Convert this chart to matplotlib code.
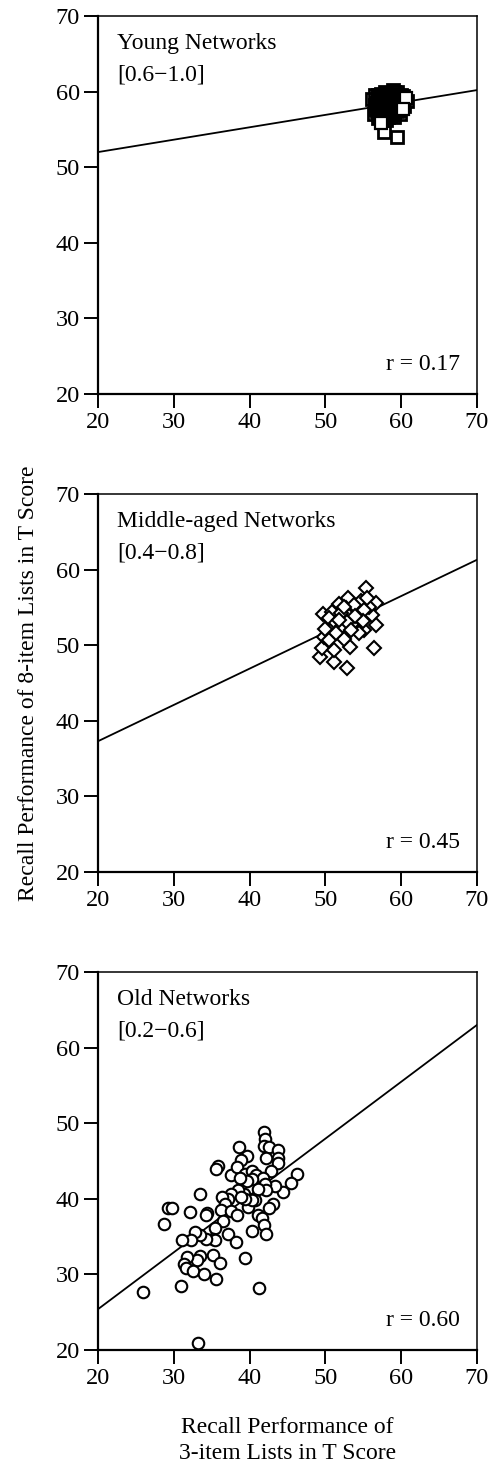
import matplotlib
matplotlib.use("Agg")
import matplotlib.pyplot as plt

plt.rcParams['font.family'] = ['Liberation Serif', 'DejaVu Serif']

# ---------------- data ----------------
# young networks: dense core (overlapping squares) ...
young_x = [56.2, 56.5, 56.8, 57.0, 57.2, 57.4, 57.6, 57.8, 58.0, 58.2, 58.4, 58.6,
           58.8, 59.0, 59.2, 59.4, 59.6, 59.8, 60.8, 56.4, 57.0, 57.5,
           58.0, 58.5, 59.0, 57.7, 59.4, 56.6, 57.9, 58.9, 59.5, 60.0, 58.3,
           57.1, 58.7, 59.1, 59.9, 60.4, 56.9, 58.1, 57.5, 58.6,
           57.3, 57.6, 57.9, 58.2, 58.5, 58.8, 59.1, 57.4, 57.7, 58.0, 58.3, 58.6,
           58.9, 59.2, 57.2, 57.5, 57.8, 58.1, 58.4, 58.7, 57.0, 56.7, 56.9, 57.3,
           57.7, 58.1, 58.4, 58.7, 59.1, 59.3, 59.6, 59.8, 60.1, 60.3, 59.5, 59.7,
           58.2, 57.6, 57.1, 56.6]
young_y = [59.0, 58.2, 57.5, 59.5, 58.6, 57.8, 59.2, 58.2, 59.8, 58.9, 57.6, 59.6,
           58.4, 59.9, 58.7, 57.5, 59.3, 58.3, 58.7, 57.0, 56.5, 56.9,
           56.2, 56.8, 57.0, 54.7, 54.0, 59.6, 60.0, 60.2, 60.0, 59.6, 58.0,
           58.0, 57.3, 56.6, 57.0, 58.1, 58.9, 59.3, 57.3, 58.9,
           59.0, 58.5, 58.8, 58.4, 58.7, 58.1, 58.4, 58.3, 57.9, 57.6, 57.9, 57.5,
           57.8, 57.9, 57.5, 57.0, 57.3, 57.0, 57.2, 56.9, 57.9, 58.5, 59.3, 59.7,
           59.5, 59.6, 59.2, 59.4, 59.2, 59.6, 58.8, 59.1, 58.9, 59.4, 58.0, 57.6,
           56.6, 56.3, 56.9, 57.7]
# ... and squares on the edge of the cluster, drawn on top
young_edge_x = [60.6, 60.2, 57.3]
young_edge_y = [59.2, 57.7, 55.9]

middle_x = [55.3, 53.0, 51.8, 56.7, 49.7, 56.7, 56.4, 52.8, 51.1, 49.3, 49.5, 51.1,
            53.3, 49.8, 50.5, 52.5, 55.1, 54.4, 56.1, 55.8, 54.7, 50.9, 50.5, 51.4,
            52.2, 53.6, 54.0, 52.7, 53.1, 54.4, 53.8, 51.4, 52.0, 52.9, 55.1, 55.5,
            50.0, 51.8, 53.4, 54.9, 52.4, 53.9]
middle_y = [57.6, 56.2, 55.4, 55.6, 54.1, 52.7, 49.6, 47.0, 47.8, 48.5, 49.6, 49.3,
            49.8, 51.1, 50.7, 50.8, 52.0, 51.6, 54.0, 55.0, 55.8, 54.4, 53.6, 52.9,
            52.5, 52.9, 54.4, 54.9, 53.8, 53.6, 55.3, 51.6, 54.2, 53.1, 54.7, 56.2,
            52.2, 53.3, 52.0, 53.2, 55.0, 53.9]

old_x = [41.9, 42.0, 41.9, 42.6, 43.7, 43.7, 43.7, 42.2, 38.6, 39.6, 38.8, 35.8,
         35.6, 46.2, 45.4, 44.4, 43.3, 42.8, 37.6, 38.3, 39.4, 40.3, 40.9, 41.8,
         42.0, 42.2, 41.1, 40.7, 39.8, 39.3, 38.5, 37.6, 37.2, 36.4, 36.7, 36.2,
         37.6, 38.4, 43.1, 42.5, 41.1, 41.7, 41.9, 42.1, 40.3, 37.1, 38.2, 36.5,
         35.4, 35.2, 35.4, 34.3, 33.4, 32.8, 32.3, 31.1, 34.4, 34.2, 32.2, 33.4,
         29.3, 29.7, 28.7, 35.2, 36.1, 33.4, 33.1, 31.7, 31.4, 31.6, 32.5, 34.0,
         35.6, 30.9, 39.4, 41.2, 26.0, 33.2, 40.3, 39.4, 38.9, 40.3, 39.6, 38.7]
old_y = [48.9, 47.9, 47.0, 46.8, 46.4, 45.4, 44.8, 45.4, 46.8, 45.6, 45.1, 44.4,
         43.9, 43.3, 42.1, 40.9, 41.7, 43.7, 43.1, 44.2, 43.3, 43.7, 43.1, 42.8,
         42.0, 41.1, 41.3, 39.8, 38.9, 40.6, 41.1, 40.7, 40.0, 40.3, 39.3, 38.5,
         38.4, 37.8, 39.3, 38.8, 37.8, 37.4, 36.5, 35.3, 35.8, 35.4, 34.3, 37.1,
         36.2, 34.7, 34.5, 34.7, 35.2, 35.6, 34.6, 34.5, 38.1, 37.8, 38.2, 40.7,
         38.8, 38.8, 36.7, 32.6, 31.5, 32.5, 31.9, 32.3, 31.4, 30.8, 30.5, 30.0,
         29.4, 28.4, 32.2, 28.2, 27.7, 20.9, 39.8, 40.0, 40.2, 42.6, 42.4, 42.8]

# regression lines (y at x=20 and x=70)
line_x = [20, 70]
young_line = [52.0, 60.2]
middle_line = [37.3, 61.3]
old_line = [25.4, 63.0]

titles = ["Young Networks", "Middle-aged Networks", "Old Networks"]
ranges = ["[0.6\u22121.0]", "[0.4\u22120.8]", "[0.2\u22120.6]"]
r_texts = ["r = 0.17", "r = 0.45", "r = 0.60"]
ticks = [20, 30, 40, 50, 60, 70]

# ---------------- figure ----------------
W, H = 496, 1470
fig = plt.figure(figsize=(W / 100, H / 100), dpi=100)

left = 98 / W
width = (477 - 98) / W
panel_tops = [16, 494, 972]
ph = 378

panels = [
    (young_x, young_y, young_line, 's', 8.5, 2.0, 'none'),
    (middle_x, middle_y, middle_line, 'D', 7.3, 1.5, 'white'),
    (old_x, old_y, old_line, 'o', 8.3, 1.5, 'white'),
]

fs = 17
tfs = 17.5
for i, (xs, ys, ln, mk, ms, mew, mfc) in enumerate(panels):
    top = panel_tops[i]
    ax = fig.add_axes([left, 1 - (top + ph) / H, width, ph / H])
    ax.plot(line_x, ln, color='black', lw=1.3, zorder=2)
    ax.plot(xs, ys, linestyle='none', marker=mk, markersize=ms,
            markerfacecolor=mfc, markeredgecolor='black',
            markeredgewidth=mew, zorder=3)
    if i == 0:
        ax.plot(young_edge_x, young_edge_y, linestyle='none', marker='s',
                markersize=ms, markerfacecolor='white',
                markeredgecolor='black', markeredgewidth=1.6, zorder=4)
    ax.set_xlim(20, 70)
    ax.set_ylim(20, 70)
    ax.set_xticks(ticks)
    ax.set_yticks(ticks)
    ax.tick_params(direction='out', length=10, width=1.4, labelsize=tfs,
                   pad=3, colors='black')
    for s in ['left', 'bottom']:
        ax.spines[s].set_linewidth(1.6)
    for s in ['top', 'right']:
        ax.spines[s].set_linewidth(1.1)
    ax.text(0.05, 0.926, titles[i], transform=ax.transAxes, fontsize=fs,
            ha='left', va='center')
    ax.text(0.05, 0.844, ranges[i], transform=ax.transAxes, fontsize=fs,
            ha='left', va='center')
    ax.text(0.955, 0.077, r_texts[i], transform=ax.transAxes, fontsize=fs,
            ha='right', va='center')
    if i == 1:
        ax.set_ylabel("Recall Performance of 8-item Lists in T Score",
                      fontsize=fs, labelpad=12)
    if i == 2:
        ax.set_xlabel("Recall Performance of\n3-item Lists in T Score",
                      fontsize=fs, labelpad=20, linespacing=1.35)

fig.savefig("out.png", dpi=100, facecolor='white')
